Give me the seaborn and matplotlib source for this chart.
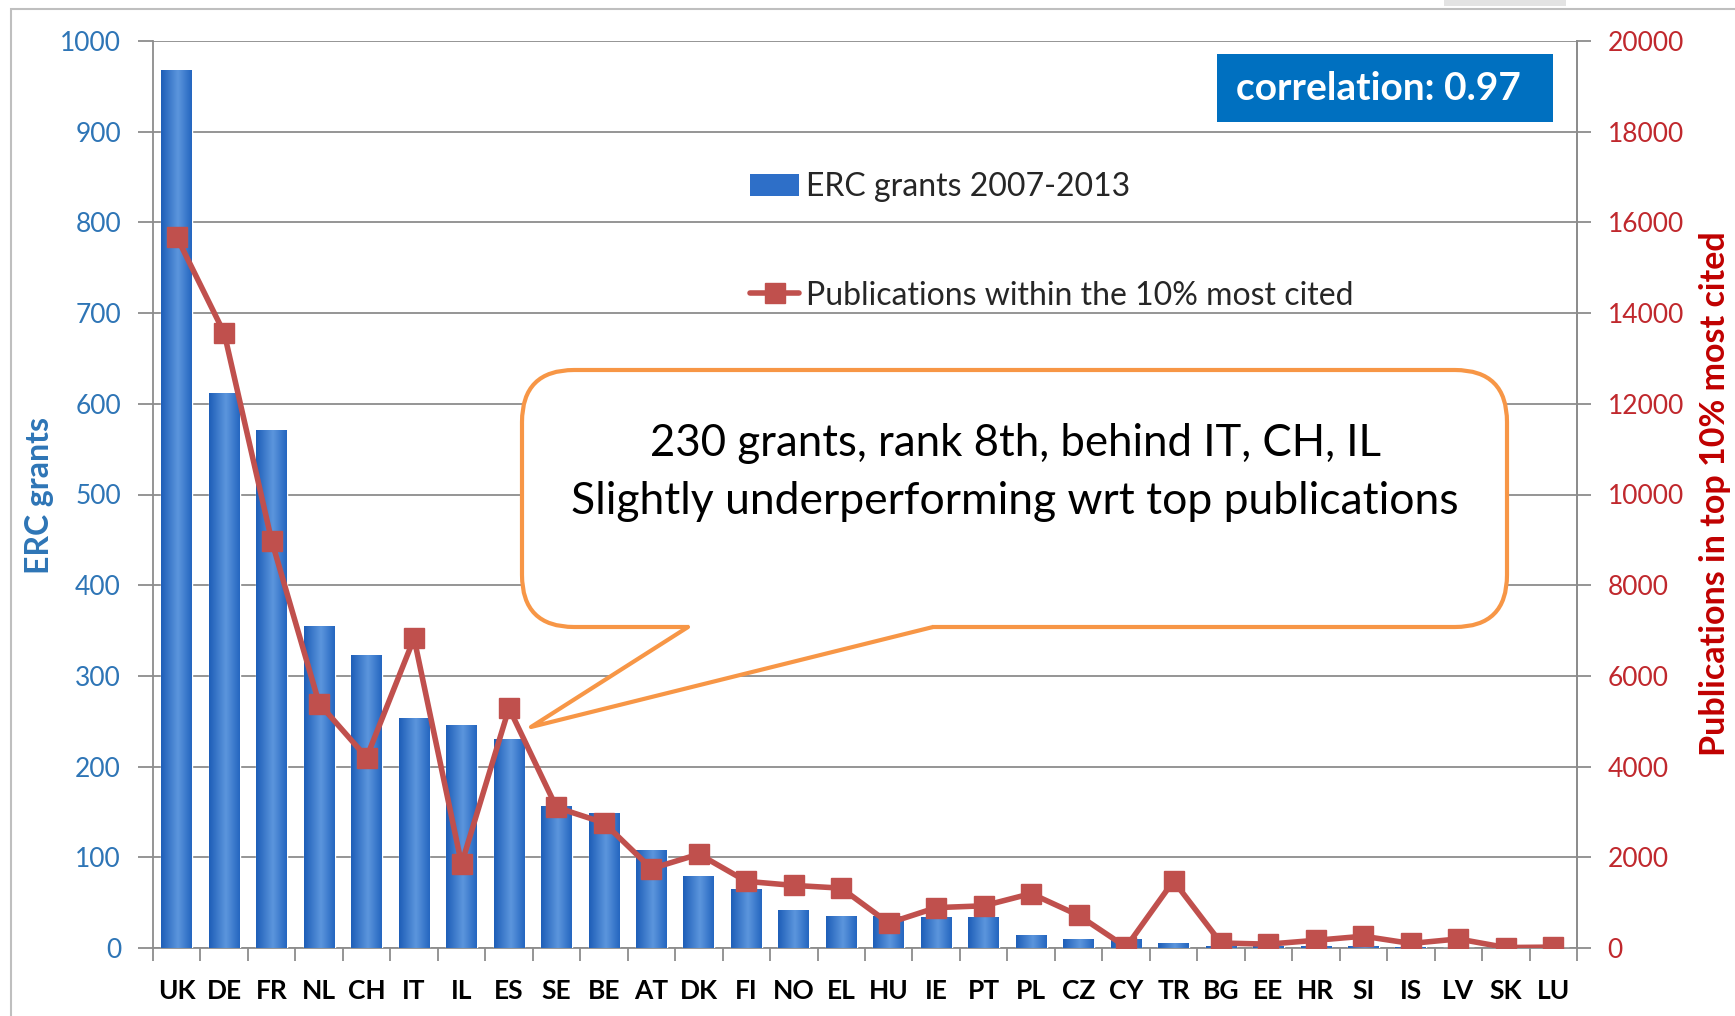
import numpy as np
import pandas as pd
import matplotlib
matplotlib.use("Agg")
import matplotlib.pyplot as plt
import seaborn as sns
from matplotlib.patches import FancyBboxPatch, Rectangle, Polygon, Patch
from matplotlib.lines import Line2D
from matplotlib.colors import LinearSegmentedColormap

# ---------------- data ----------------
countries = ["UK", "DE", "FR", "NL", "CH", "IT", "IL", "ES", "SE", "BE", "AT", "DK", "FI", "NO", "EL",
             "HU", "IE", "PT", "PL", "CZ", "CY", "TR", "BG", "EE", "HR", "SI", "IS", "LV", "SK", "LU"]
erc_grants = [968, 611, 571, 354, 323, 253, 245, 230, 156, 148, 108, 79, 64, 41, 35,
              35, 34, 34, 14, 9, 9, 5, 2, 2, 2, 2, 1, 0, 0, 0]
top10_pubs = [15680, 13560, 8980, 5390, 4200, 6830, 1850, 5290, 3100, 2760, 1750, 2070, 1470, 1380, 1320,
              550, 890, 930, 1200, 720, 20, 1480, 110, 85, 170, 260, 100, 200, 10, 20]
left_ticks = list(range(0, 1001, 100))
right_ticks = list(range(0, 20001, 2000))
bar_label = "ERC grants 2007-2013"
line_label = "Publications within the 10% most cited"

# ---------------- style ----------------
W, H = 1735, 1016
sns.set_theme(style="white")
plt.rcParams["font.family"] = ["Lato", "DejaVu Sans"]

BAR = "#2E6FC8"
LINE = "#C0504D"
GRID = "#8C8C8C"
BLUE_TXT = "#2E75B6"
RED_TXT = "#C00000"

fig = plt.figure(figsize=(W / 100, H / 100), dpi=100)


def fx(x):
    return x / W


def fy(y):
    return 1 - y / H


ax = fig.add_axes([fx(153), fy(948), fx(1577) - fx(153), fy(41) - fy(948)])
df = pd.DataFrame({"country": countries, "grants": erc_grants})
sns.barplot(data=df, x="country", y="grants", ax=ax, color=BAR, width=0.65,
            saturation=1, zorder=3, errorbar=None)

# gradient shading for the bars
cmap = LinearSegmentedColormap.from_list("bar", [(0, "#1E5EB8"), (0.55, "#5C96DD"), (1, "#2566C0")])
grad = np.linspace(0, 1, 64).reshape(1, -1)
for p in list(ax.patches):
    x0, y0, w, h = p.get_x(), p.get_y(), p.get_width(), p.get_height()
    if h > 0:
        ax.imshow(grad, extent=[x0, x0 + w, y0, y0 + h], aspect="auto", cmap=cmap, zorder=3.1,
                  interpolation="bicubic")

ax.set_xlim(-0.5, len(countries) - 0.5)
ax.set_ylim(0, 1000)
ax.set_yticks(left_ticks)
ax.set_xlabel("")
ax.set_ylabel("")
ax.set_axisbelow(True)
ax.yaxis.grid(True, color=GRID, lw=1.3)
ax.xaxis.grid(False)
ax.spines["top"].set_visible(False)
for s in ["left", "bottom", "right"]:
    ax.spines[s].set_color(GRID)
    ax.spines[s].set_linewidth(1.3)

ax.tick_params(axis="y", direction="out", length=11, width=1.3, color=GRID,
               labelsize=19, labelcolor=BLUE_TXT, pad=12, left=True)
ax.set_xticks(np.arange(len(countries)))
ax.set_xticklabels(countries)
ax.set_xticks(np.arange(-0.5, len(countries), 1), minor=True)
ax.tick_params(axis="x", which="major", length=0, labelsize=19, pad=22)
ax.tick_params(axis="x", which="minor", direction="out", length=9, width=1.3, color=GRID, bottom=True)
for t in ax.get_xticklabels():
    t.set_fontweight("bold")
    t.set_color("black")

ax2 = ax.twinx()
ax2.plot(np.arange(len(countries)), top10_pubs, color=LINE, lw=4, marker="s", ms=14, zorder=5)
ax2.set_ylim(0, 20000)
ax2.set_yticks(right_ticks)
ax2.grid(False)
for s in ["top", "left", "bottom"]:
    ax2.spines[s].set_visible(False)
ax2.spines["right"].set_color(GRID)
ax2.spines["right"].set_linewidth(1.3)
ax2.tick_params(axis="y", direction="out", length=10, width=1.3, color=GRID,
                labelsize=19, labelcolor="#C0282D", pad=12, right=True)

# axis titles
fig.text(fx(40), fy(495), "ERC grants", rotation=90, ha="center", va="center",
         color=BLUE_TXT, fontweight="bold", fontsize=23)
fig.text(fx(1715), fy(494), "Publications in top 10% most cited", rotation=90, ha="center",
         va="center", color=RED_TXT, fontweight="bold", fontsize=24.5)

# legend
handles = [Patch(facecolor=BAR, edgecolor="none"),
           Line2D([], [], color=LINE, lw=4, marker="s", ms=14)]
fig.legend(handles, [bar_label, line_label], loc="upper left",
           bbox_to_anchor=(fx(721), fy(143.5)), frameon=False, fontsize=23,
           handlelength=1.55, labelspacing=2.45, handletextpad=0.2)

# correlation box
fig.patches.append(Rectangle((fx(1217), fy(122)), fx(1553) - fx(1217), fy(54) - fy(122),
                             transform=fig.transFigure, facecolor="#0070C0", edgecolor="none", zorder=10))
fig.text(fx(1378), fy(89), "correlation: 0.97", ha="center", va="center", color="white",
         fontweight="bold", fontsize=28, zorder=11)

# callout box
ORANGE = "#F79646"
bx0, by0, bx1, by1 = 522, 370, 1507, 627
fig.patches.append(FancyBboxPatch((fx(bx0), fy(by1)), fx(bx1) - fx(bx0), fy(by0) - fy(by1),
                                  boxstyle="round,pad=0,rounding_size=0.03",
                                  transform=fig.transFigure, facecolor="white", edgecolor=ORANGE,
                                  lw=3, zorder=10, mutation_aspect=W / H))
b1 = (688, by1)
b2 = (933, by1)
tip = (531, 727)
fig.patches.append(Polygon([(fx(b1[0] + 2), fy(by1 - 4)), (fx(b2[0] - 2), fy(by1 - 4)),
                            (fx(b2[0]), fy(by1)), (fx(tip[0]), fy(tip[1])), (fx(b1[0]), fy(by1))],
                           closed=True, transform=fig.transFigure, facecolor="white",
                           edgecolor="none", zorder=11))
fig.lines.append(Line2D([fx(b1[0]), fx(tip[0]), fx(b2[0])], [fy(b1[1]), fy(tip[1]), fy(b2[1])],
                        transform=fig.transFigure, color=ORANGE, lw=3, zorder=12))
fig.text(fx(1015), fy(443), "230 grants, rank 8th, behind IT, CH, IL", ha="center", va="center",
         fontsize=31.5, color="black", zorder=13)
fig.text(fx(1015), fy(501), "Slightly underperforming wrt top publications", ha="center", va="center",
         fontsize=32, color="black", zorder=13)

# outer frame and top decorations
fig.patches.append(Rectangle((fx(11), -0.1), 1.2, fy(9) + 0.1, transform=fig.transFigure,
                             facecolor="none", edgecolor="#BFBFBF", lw=1.5, zorder=0))
fig.patches.append(Rectangle((fx(1444), fy(6)), fx(1566) - fx(1444), fy(0) - fy(6) + 0.01,
                             transform=fig.transFigure, facecolor="#E3E3E3", edgecolor="none", zorder=0))

fig.savefig("out.png", dpi=100)
